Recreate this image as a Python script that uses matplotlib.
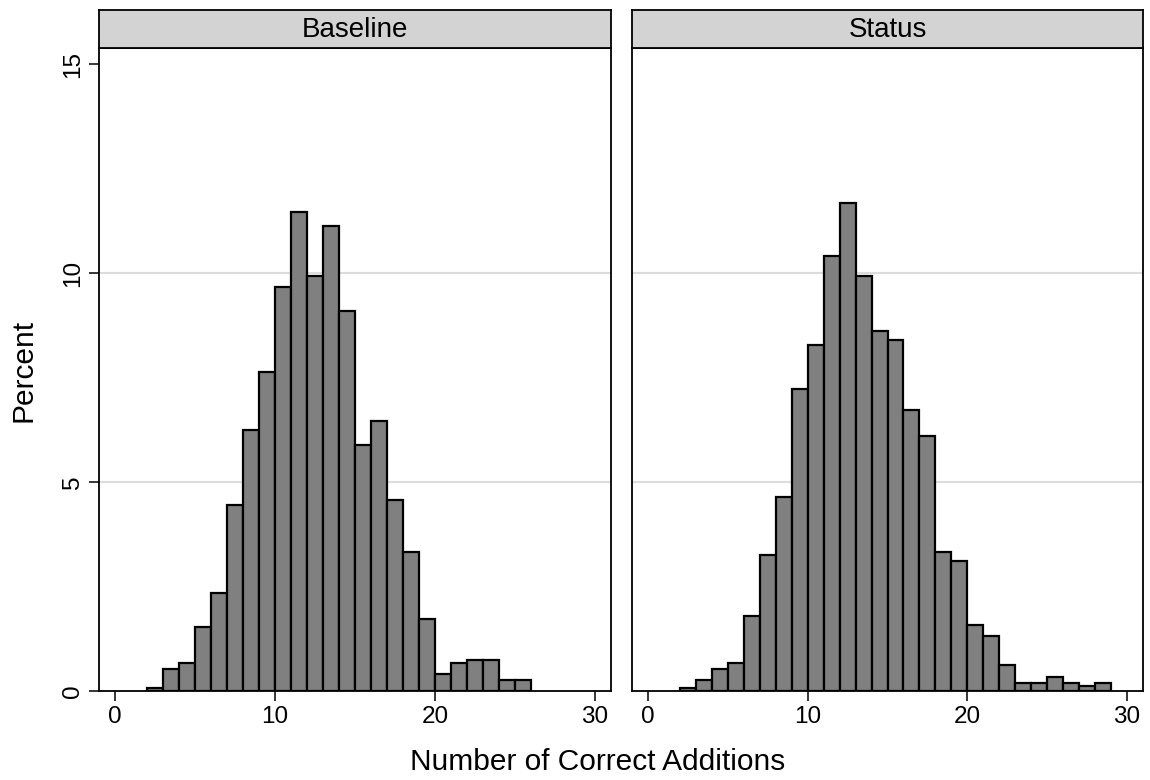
import numpy as np
import matplotlib
matplotlib.use("Agg")
import matplotlib.pyplot as plt

plt.rcParams['font.family'] = ['Liberation Sans', 'DejaVu Sans']

# percent of respondents per bin (bin width 1, first bin starts at 2)
baseline_start = 2
baseline_pct = [0.07, 0.53, 0.68, 1.52, 2.35, 4.45, 6.25, 7.64, 9.66, 11.46,
                9.93, 11.12, 9.10, 5.89, 6.46, 4.57, 3.33, 1.72, 0.41, 0.68,
                0.74, 0.74, 0.26, 0.26]
status_start = 2
status_pct = [0.06, 0.26, 0.53, 0.68, 1.80, 3.26, 4.65, 7.22, 8.27, 10.42,
              11.68, 9.93, 8.61, 8.40, 6.73, 6.10, 3.33, 3.12, 1.59, 1.32,
              0.62, 0.19, 0.19, 0.34, 0.19, 0.12, 0.19]

panels = ["Baseline", "Status"]
x_ticks = [0, 10, 20, 30]
y_ticks = [0, 5, 10, 15]

fig = plt.figure(figsize=(11.5, 7.8), dpi=100)
W, H = 1150, 780

def px_axes(x0, y0, x1, y1):
    return fig.add_axes([x0 / W, 1 - y1 / H, (x1 - x0) / W, (y1 - y0) / H])

ax1 = px_axes(99, 48, 611, 691)
ax2 = px_axes(632, 48, 1143, 691)

data = [(baseline_start, baseline_pct), (status_start, status_pct)]

for i, (ax, name, (start, pct)) in enumerate(zip([ax1, ax2], panels, data)):
    edges = start + np.arange(len(pct))
    for g in [5, 10]:
        ax.axhline(g, color='#dcdcdc', lw=1.5, zorder=0)
    ax.bar(edges, pct, width=1, align='edge', color='#808080',
           edgecolor='black', linewidth=1.6, zorder=2)
    ax.set_xlim(-1, 31)
    ax.set_ylim(0, 15.39)
    ax.set_xticks(x_ticks)
    ax.tick_params(axis='x', length=7, width=1.1, pad=4, labelsize=17.5)
    for s in ax.spines.values():
        s.set_linewidth(1.3)
        s.set_color('black')
    if i == 0:
        ax.set_yticks(y_ticks)
        ax.tick_params(axis='y', length=7, width=1.1, pad=4, labelsize=17.5)
        for lab in ax.get_yticklabels():
            lab.set_rotation(90)
            lab.set_va('center')
    else:
        ax.set_yticks([])

    # strip header
    pos = ax.get_position()
    strip = fig.add_axes([pos.x0, 1 - 48 / H, pos.width, 38 / H])
    strip.set_facecolor('#d3d3d3')
    strip.set_xticks([])
    strip.set_yticks([])
    for s in strip.spines.values():
        s.set_linewidth(1.3)
        s.set_color('black')
    strip.text(0.5, 0.48, name, ha='center', va='center', fontsize=20,
               transform=strip.transAxes)

fig.text(24 / W, 1 - 370 / H, "Percent", rotation=90, ha='center', va='center',
         fontsize=21.5)
fig.text(598 / W, 1 - 762 / H, "Number of Correct Additions", ha='center',
         va='center', fontsize=21.5)

fig.savefig("out.png", dpi=100)
